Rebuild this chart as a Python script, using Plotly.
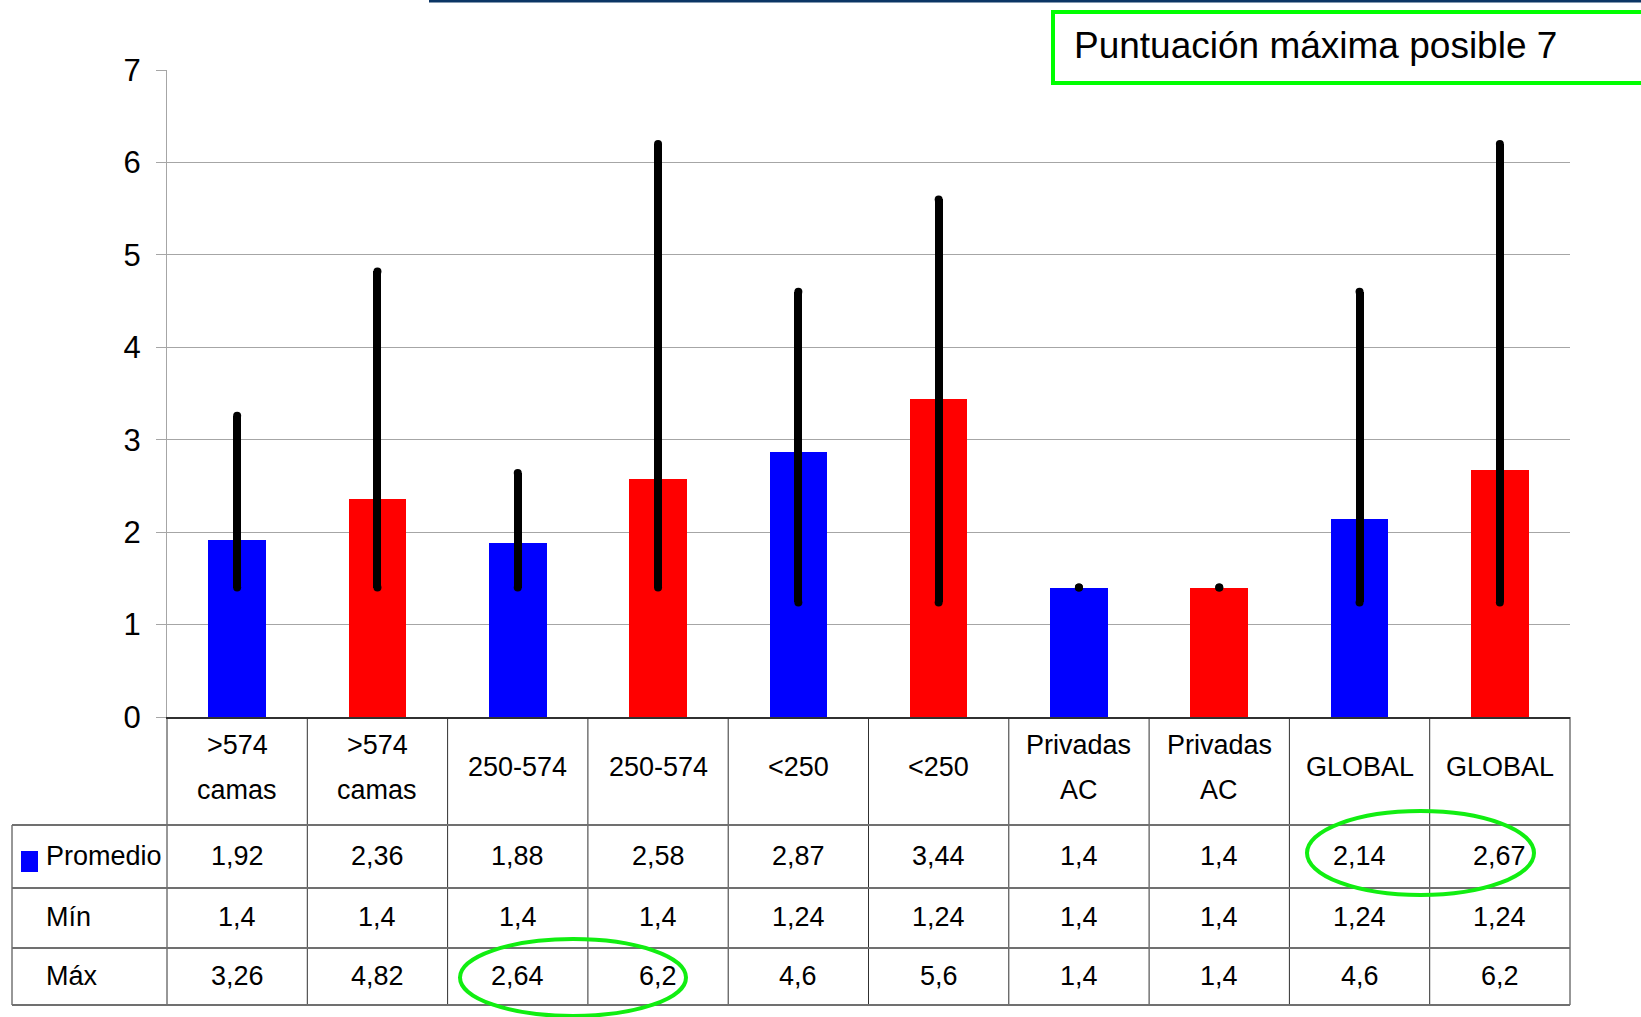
import plotly.graph_objects as go

# ---------------- data ----------------
categories = [">574 camas", ">574 camas", "250-574", "250-574", "<250", "<250",
              "Privadas AC", "Privadas AC", "GLOBAL", "GLOBAL"]
promedio = [1.92, 2.36, 1.88, 2.58, 2.87, 3.44, 1.4, 1.4, 2.14, 2.67]
minimo = [1.4, 1.4, 1.4, 1.4, 1.24, 1.24, 1.4, 1.4, 1.24, 1.24]
maximo = [3.26, 4.82, 2.64, 6.2, 4.6, 5.6, 1.4, 1.4, 4.6, 6.2]
row_labels = ["Promedio", "Mín", "Máx"]
y_ticks = [0, 1, 2, 3, 4, 5, 6, 7]
note_text = "Puntuación máxima posible 7"

# ---------------- styles ----------------
BLUE, RED = "#0000FF", "#FF0000"
bar_colors = [BLUE if i % 2 == 0 else RED for i in range(len(categories))]
NARROW = "Liberation Sans Narrow, Arial Narrow, Liberation Sans, Arial, sans-serif"
REG = "Liberation Sans, Arial, sans-serif"
GREEN = "#11EE11"

W, H = 1641, 1017
L, R, T, B = 167, 71, 70, 300


def px(xp):
    return (xp - L) / (W - L - R)


def py(yp):
    return (H - B - yp) / (H - T - B)


def esc(s):
    return s.replace("&", "&amp;").replace("<", "&lt;").replace(">", "&gt;")


def fmt(v):
    return ("%g" % v).replace(".", ",")


idx = list(range(len(categories)))
n = len(categories)

fig = go.Figure()
fig.add_trace(go.Bar(
    x=idx, y=promedio, width=0.41, marker=dict(color=bar_colors, line=dict(width=0)),
    error_y=dict(type="data", symmetric=False,
                 array=[mx - p for mx, p in zip(maximo, promedio)],
                 arrayminus=[p - mn for p, mn in zip(promedio, minimo)],
                 thickness=8, width=0, color="black"),
    showlegend=False, hoverinfo="skip"))
fig.add_trace(go.Scatter(
    x=idx + idx, y=minimo + maximo, mode="markers",
    marker=dict(color="black", size=8, line=dict(width=0)),
    showlegend=False, hoverinfo="skip"))

shapes = []
ann = []

row_tops = [717, 825, 888, 948, 1005]
line_dark = "#303030"
line_gray = "#707070"
TFS = 27

for i in range(n + 1):
    shapes.append(dict(type="line", xref="paper", yref="paper",
                       x0=i / n, x1=i / n, y0=py(717), y1=py(1005),
                       line=dict(color=line_dark, width=1)))
shapes.append(dict(type="line", xref="paper", yref="paper",
                   x0=px(12), x1=px(12), y0=py(825), y1=py(1005),
                   line=dict(color=line_dark, width=1)))
for yp in row_tops[1:]:
    shapes.append(dict(type="line", xref="paper", yref="paper",
                       x0=px(12), x1=1, y0=py(yp), y1=py(yp),
                       line=dict(color=line_gray, width=2)))

# header texts
for i, c in enumerate(categories):
    parts = c.split(" ")
    if len(parts) == 1:
        ys = [767]
    else:
        ys = [745, 790]
    for ptxt, yc in zip(parts, ys):
        ann.append(dict(x=i, y=py(yc), xref="x", yref="paper", text=esc(ptxt),
                        showarrow=False, font=dict(family=NARROW, size=TFS, color="black"),
                        xanchor="center", yanchor="middle", align="center"))

row_centers = [856, 917, 976]
for vals, yc in zip([promedio, minimo, maximo], row_centers):
    for i, v in enumerate(vals):
        ann.append(dict(x=i, y=py(yc), xref="x", yref="paper", text=fmt(v),
                        showarrow=False, font=dict(family=NARROW, size=TFS, color="black"),
                        xanchor="center", yanchor="middle"))
for lab, yc in zip(row_labels, row_centers):
    ann.append(dict(x=px(44), y=py(yc), xref="paper", yref="paper", text=lab,
                    showarrow=False, font=dict(family=NARROW, size=TFS, color="black"),
                    xanchor="left", yanchor="middle"))
shapes.append(dict(type="rect", xref="paper", yref="paper",
                   x0=px(21), x1=px(38), y0=py(872), y1=py(851),
                   fillcolor=BLUE, line=dict(width=0)))

shapes.append(dict(type="line", xref="paper", yref="paper",
                   x0=px(429), x1=px(1645), y0=py(1), y1=py(1),
                   line=dict(color="#0B3565", width=3)))
shapes.append(dict(type="rect", xref="paper", yref="paper",
                   x0=px(1053), x1=px(1650), y0=py(83), y1=py(12),
                   fillcolor="white", line=dict(color="#00FF00", width=4)))
ann.append(dict(x=px(1072), y=py(46), xref="paper", yref="paper", text=note_text,
                showarrow=False, font=dict(family=REG, size=37, color="black"),
                xanchor="left", yanchor="middle"))
shapes.append(dict(type="circle", xref="paper", yref="paper",
                   x0=px(1307), x1=px(1534), y0=py(895), y1=py(811),
                   line=dict(color=GREEN, width=4)))
shapes.append(dict(type="circle", xref="paper", yref="paper",
                   x0=px(460), x1=px(686), y0=py(1016), y1=py(939),
                   line=dict(color=GREEN, width=4)))

fig.update_layout(
    width=W, height=H, margin=dict(l=L, r=R, t=T, b=B),
    paper_bgcolor="white", plot_bgcolor="white",
    shapes=shapes, annotations=ann, bargap=0,
    xaxis=dict(range=[-0.5, n - 0.5], showticklabels=False, showgrid=False,
               zeroline=False, showline=True, linecolor=line_dark, linewidth=1.5,
               fixedrange=True),
    yaxis=dict(range=[0, 7], tickvals=y_ticks, showgrid=True, gridcolor="#A6A6A6",
               gridwidth=1, zeroline=False, showline=True, linecolor="#A6A6A6",
               ticks="outside", ticklen=10, tickcolor="#A6A6A6",
               ticklabelstandoff=9,
               tickfont=dict(family=NARROW, size=31, color="black"), fixedrange=True),
)

fig.write_html("out.html", post_script="document.body.style.margin='0';",
               config={"displayModeBar": False})
